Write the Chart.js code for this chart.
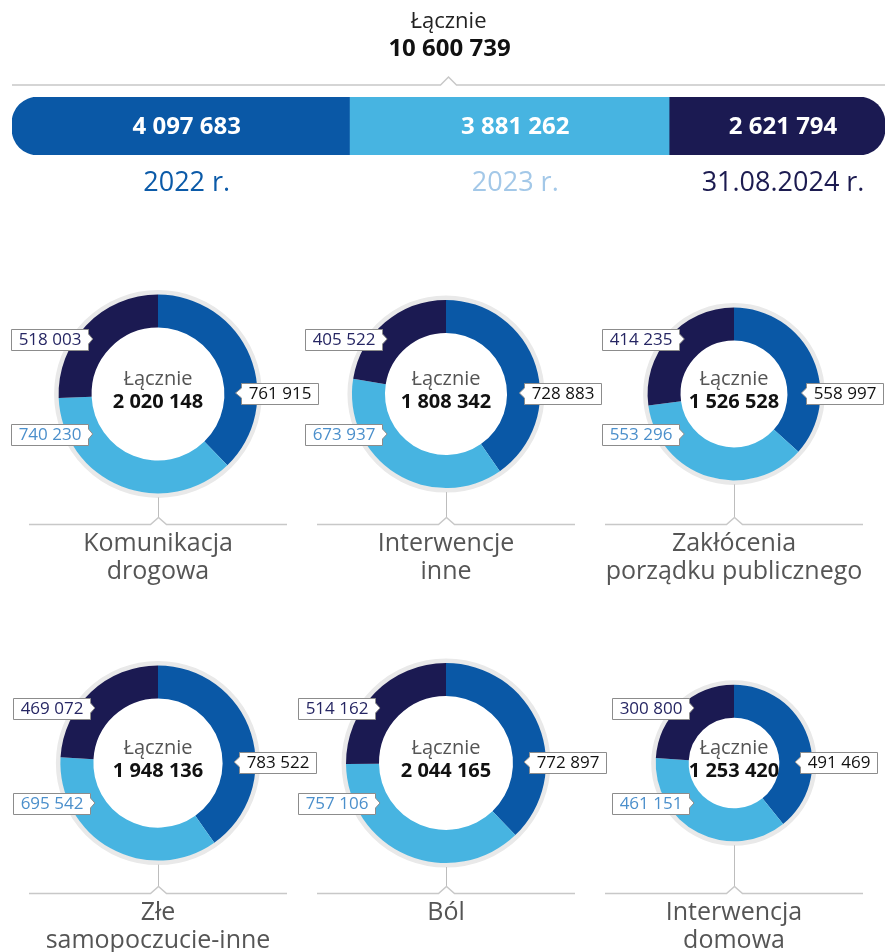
<!DOCTYPE html>
<html lang="pl">
<head>
<meta charset="utf-8">
<title>Łącznie 10 600 739</title>
<script src="https://cdn.jsdelivr.net/npm/chart.js@4.4.1/dist/chart.umd.min.js"></script>
<style>
  html, body { margin: 0; padding: 0; background: #ffffff; }
  body { width: 888px; height: 952px; position: relative; overflow: hidden; }
  canvas { position: absolute; display: block; }
</style>
</head>
<body>
<canvas id="summary"></canvas>
<div id="donuts"></div>
<script>
// ---- data ----
const years = ['2022 r.', '2023 r.', '31.08.2024 r.'];
const yearTotals = [4097683, 3881262, 2621794];

const categories = [
  ['Komunikacja', 'drogowa'],
  ['Interwencje', 'inne'],
  ['Zakłócenia', 'porządku publicznego'],
  ['Złe', 'samopoczucie-inne'],
  ['Ból'],
  ['Interwencja', 'domowa']
];
const values2022 = [761915, 728883, 558997, 783522, 772897, 491469];
const values2023 = [740230, 673937, 553296, 695542, 757106, 461151];
const values2024 = [518003, 405522, 414235, 469072, 514162, 300800];
const totalLabel = 'Łącznie';

// ---- styling ----
const FONT = '"Open Sans", "Noto Sans", sans-serif';
const segColors = ['#0a58a6', '#47b4e1', '#1b1a52'];
const yearTextColors = ['#0b5aa8', '#a3c8e8', '#1c1b50'];
const tagTextColors = ['#111111', '#4b8fcb', '#262663'];

const fmt = n => String(n).replace(/\B(?=(\d{3})+(?!\d))/g, ' ');
const sum = a => a.reduce((s, v) => s + v, 0);

// ---- summary bar ----
const W = 888;
const summaryCanvas = document.getElementById('summary');
summaryCanvas.width = W; summaryCanvas.height = 212;
summaryCanvas.style.left = '0px'; summaryCanvas.style.top = '0px';
summaryCanvas.style.width = W + 'px'; summaryCanvas.style.height = '212px';

const grandTotal = sum(yearTotals);

const summaryDecor = {
  id: 'summaryDecor',
  afterDraw(chart) {
    const ctx = chart.ctx;
    const area = chart.chartArea;
    const mid = (area.left + area.right) / 2;
    ctx.save();
    ctx.textAlign = 'center';
    ctx.textBaseline = 'alphabetic';
    ctx.fillStyle = '#222';
    ctx.font = '22px ' + FONT;
    ctx.fillText(totalLabel, mid, 28);
    ctx.fillStyle = '#111';
    ctx.font = 'bold 24px ' + FONT;
    ctx.fillText(fmt(grandTotal), mid + 1, 56);

    // divider with a caret under the total
    ctx.strokeStyle = '#c8c8c8';
    ctx.lineWidth = 1.5;
    ctx.beginPath();
    ctx.moveTo(area.left, 85);
    ctx.lineTo(mid - 8, 85);
    ctx.lineTo(mid, 77);
    ctx.lineTo(mid + 8, 85);
    ctx.lineTo(area.right, 85);
    ctx.stroke();

    // values on the segments and year captions below
    chart.data.datasets.forEach((ds, i) => {
      const bar = chart.getDatasetMeta(i).data[0];
      const x0 = Math.min(bar.x, bar.base), x1 = Math.max(bar.x, bar.base);
      const cx = (x0 + x1) / 2 + 6;
      ctx.fillStyle = '#ffffff';
      ctx.font = 'bold 24px ' + FONT;
      ctx.textBaseline = 'middle';
      ctx.fillText(fmt(ds.data[0]), cx, bar.y + 1);
      ctx.fillStyle = yearTextColors[i];
      ctx.font = '27px ' + FONT;
      ctx.textBaseline = 'alphabetic';
      ctx.fillText(ds.label, cx, 191);
    });
    ctx.restore();
  }
};

const lastIdx = years.length - 1;
new Chart(summaryCanvas, {
  type: 'bar',
  data: {
    labels: [totalLabel],
    datasets: years.map((y, i) => ({
      label: y,
      data: [yearTotals[i]],
      backgroundColor: segColors[i],
      borderWidth: 0,
      borderSkipped: false,
      borderRadius: i === 0 ? { topLeft: 26, bottomLeft: 26, topRight: 0, bottomRight: 0 }
                  : i === lastIdx ? { topLeft: 0, bottomLeft: 0, topRight: 26, bottomRight: 26 }
                  : 0,
      barPercentage: 1,
      categoryPercentage: 1
    }))
  },
  options: {
    indexAxis: 'y',
    responsive: false,
    animation: false,
    events: [],
    layout: { padding: { left: 12, right: 3, top: 97, bottom: 212 - 155 } },
    scales: {
      x: { stacked: true, display: false, min: 0, max: grandTotal },
      y: { stacked: true, display: false }
    },
    plugins: { legend: { display: false }, tooltip: { enabled: false } }
  },
  plugins: [summaryDecor]
});

// ---- category donuts ----
const colCenters = [158, 446, 734];
const rowCenters = [394, 763];
const CW = 344, CH = 372, LOCAL_CY = 175;
const totals = categories.map((_, i) => values2022[i] + values2023[i] + values2024[i]);
const maxTotal = Math.max(...totals);
const MAX_R = 100, RING = 33;

function drawTag(ctx, tipX, tipY, text, side, color) {
  ctx.font = '17px ' + FONT;
  const tw = ctx.measureText(text).width;
  const h = 21, a = 5, pad = 7;
  const bw = tw + pad * 2;
  const top = Math.round(tipY - h / 2) + 0.5, bot = top + h;
  let xl, xr;
  ctx.beginPath();
  if (side === 'left') {
    xr = Math.round(tipX - a) + 0.5; xl = xr - Math.round(bw);
    ctx.moveTo(xl, top); ctx.lineTo(xr, top); ctx.lineTo(xr, tipY - 5);
    ctx.lineTo(tipX, tipY); ctx.lineTo(xr, tipY + 5); ctx.lineTo(xr, bot);
    ctx.lineTo(xl, bot);
  } else {
    xl = Math.round(tipX + a) + 0.5; xr = xl + Math.round(bw);
    ctx.moveTo(xr, top); ctx.lineTo(xl, top); ctx.lineTo(xl, tipY - 5);
    ctx.lineTo(tipX, tipY); ctx.lineTo(xl, tipY + 5); ctx.lineTo(xl, bot);
    ctx.lineTo(xr, bot);
  }
  ctx.closePath();
  ctx.fillStyle = '#ffffff';
  ctx.fill();
  ctx.strokeStyle = '#8c8c8c';
  ctx.lineWidth = 1;
  ctx.stroke();
  ctx.fillStyle = color;
  ctx.textAlign = 'center';
  ctx.textBaseline = 'middle';
  ctx.fillText(text, (xl + xr) / 2, tipY + 1);
}

const donutDecor = {
  id: 'donutDecor',
  beforeDatasetsDraw(chart) {
    // thin light-grey rim around the ring
    const arc = chart.getDatasetMeta(0).data[0];
    const ctx = chart.ctx;
    ctx.save();
    ctx.strokeStyle = '#e9e9e9';
    ctx.lineWidth = 5;
    ctx.beginPath();
    ctx.arc(arc.x, arc.y, arc.outerRadius + 2, 0, Math.PI * 2);
    ctx.stroke();
    ctx.restore();
  },
  afterDraw(chart) {
    const meta = chart.getDatasetMeta(0);
    const arc = meta.data[0];
    const cx = arc.x, cy = arc.y, r = arc.outerRadius;
    const data = chart.data.datasets[0].data;
    const idx = chart.options.plugins.donutDecor.index;
    const ctx = chart.ctx;
    ctx.save();

    // centre total
    ctx.textAlign = 'center';
    ctx.textBaseline = 'alphabetic';
    ctx.fillStyle = '#555555';
    ctx.font = '20px ' + FONT;
    ctx.fillText(totalLabel, cx, cy - 9);
    ctx.fillStyle = '#111111';
    ctx.font = 'bold 20px ' + FONT;
    ctx.fillText(fmt(sum(data)), cx, cy + 14);

    // value tags
    const leftDx = 1.2 * r - 54;
    drawTag(ctx, cx + 0.78 * r, cy - 1, fmt(data[0]), 'right', tagTextColors[0]);
    drawTag(ctx, cx - leftDx, cy + 40, fmt(data[1]), 'left', tagTextColors[1]);
    drawTag(ctx, cx - leftDx, cy - 55, fmt(data[2]), 'left', tagTextColors[2]);

    // connector and baseline with caret
    const ly = Math.round(cy + 130) + 0.5;
    const px = Math.round(cx) + 0.5;
    ctx.strokeStyle = '#bdbdbd';
    ctx.lineWidth = 1;
    ctx.beginPath();
    ctx.moveTo(px, cy + r + 4);
    ctx.lineTo(px, ly - 7);
    ctx.stroke();
    ctx.strokeStyle = '#c8c8c8';
    ctx.lineWidth = 1.5;
    ctx.beginPath();
    ctx.moveTo(cx - 129, ly);
    ctx.lineTo(px - 8, ly);
    ctx.lineTo(px, ly - 7);
    ctx.lineTo(px + 8, ly);
    ctx.lineTo(cx + 129, ly);
    ctx.stroke();

    // category caption
    ctx.fillStyle = '#555555';
    ctx.font = '25px ' + FONT;
    ctx.textBaseline = 'alphabetic';
    categories[idx].forEach((line, k) => {
      ctx.fillText(line, cx, ly + 26 + k * 28);
    });
    ctx.restore();
  }
};

const holder = document.getElementById('donuts');
categories.forEach((cat, i) => {
  const col = i % 3, row = Math.floor(i / 3);
  const cv = document.createElement('canvas');
  cv.width = CW; cv.height = CH;
  cv.style.width = CW + 'px'; cv.style.height = CH + 'px';
  cv.style.left = (colCenters[col] - CW / 2) + 'px';
  cv.style.top = (rowCenters[row] - LOCAL_CY) + 'px';
  holder.appendChild(cv);

  const r = MAX_R * Math.sqrt(totals[i] / maxTotal);
  new Chart(cv, {
    type: 'doughnut',
    data: {
      labels: years,
      datasets: [{
        data: [values2022[i], values2023[i], values2024[i]],
        backgroundColor: segColors,
        borderWidth: 0,
        hoverOffset: 0
      }]
    },
    options: {
      responsive: false,
      animation: false,
      events: [],
      radius: r,
      cutout: ((r - RING) / r * 100) + '%',
      layout: { padding: { left: 0, right: 0, top: 0, bottom: CH - 2 * LOCAL_CY } },
      plugins: {
        legend: { display: false },
        tooltip: { enabled: false },
        donutDecor: { index: i }
      }
    },
    plugins: [donutDecor]
  });
});
</script>
</body>
</html>
